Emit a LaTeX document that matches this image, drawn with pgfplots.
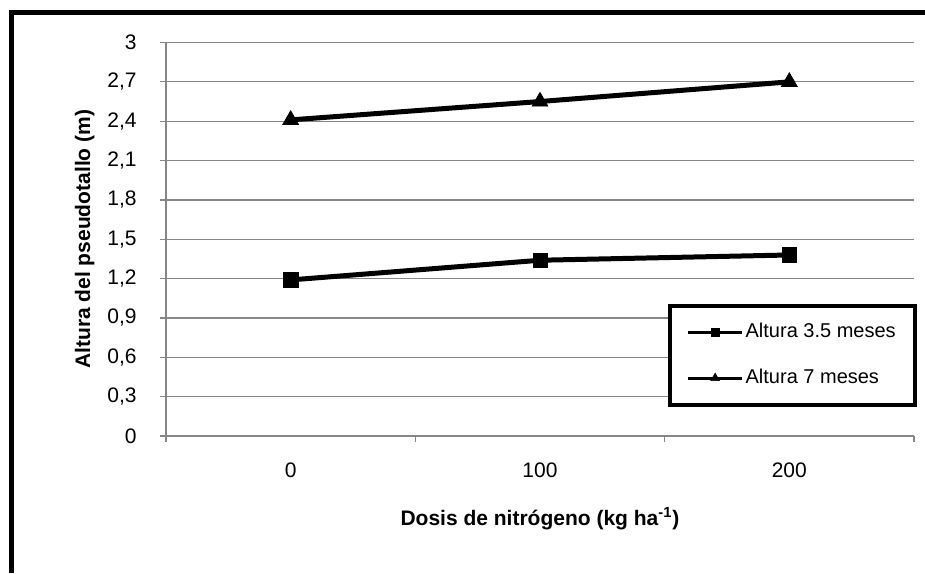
\documentclass[border=0pt]{standalone}
\usepackage{pgfplots}
\pgfplotsset{compat=1.18}
\usepackage{fontspec}
\setmainfont{Liberation Sans}
\definecolor{gridgray}{RGB}{134,134,134}

\begin{document}
\fontsize{10.5pt}{12.6pt}\selectfont%
\begin{tikzpicture}
\useasboundingbox (0pt,0pt) rectangle (462.5pt,286.5pt);
% chart frame
\draw[line width=2.5pt] (5.5pt,0pt) -- (5.5pt,280.25pt) -- (462.5pt,280.25pt);
\begin{axis}[
  at={(83pt,68.5pt)}, anchor=south west,
  width=374pt, height=196.75pt, scale only axis,
  xmin=-0.5, xmax=2.5, ymin=0, ymax=3,
  axis lines*=left,
  axis line style={gridgray, line width=0.6pt},
  ymajorgrids, grid style={gridgray, line width=0.6pt},
  tick align=outside, major tick length=3pt,
  tick style={gridgray, line width=0.6pt},
  ytick={0,0.3,0.6,0.9,1.2,1.5,1.8,2.1,2.4,2.7,3},
  xtick={-0.5,0.5,1.5,2.5}, xticklabels={},
  extra x ticks={0,1,2}, extra x tick labels={0,100,200},
  extra x tick style={major tick length=0pt, grid=none},
  xticklabel style={anchor=base, yshift=-20.9pt},
  yticklabel style={anchor=east, xshift=-8pt,
    /pgf/number format/use comma, /pgf/number format/fixed,
    /pgf/number format/precision=1, /pgf/number format/assume math mode=true},
  xlabel={\bfseries Dosis de nitrógeno (kg ha\textsuperscript{-1})},
  xlabel style={at={(axis description cs:0.5,0)}, anchor=base, yshift=-44.5pt},
  ylabel={\bfseries Altura del pseudotallo (m)},
  ylabel style={at={(axis description cs:-0.1016,0.5)}, anchor=base},
  legend style={at={(axis description cs:1.0036,0.0745)}, anchor=south east,
    draw=black, line width=2pt, inner xsep=8.5pt, inner ysep=7pt, row sep=10.5pt,
    font=\fontsize{10pt}{12pt}\selectfont,
    nodes={inner sep=1pt, text height=8pt, text depth=2.5pt}},
  legend cell align=left,
  legend image code/.code={\draw[mark repeat=2, mark phase=2, #1]
    plot coordinates {(0pt,0pt) (13.5pt,0pt) (27pt,0pt)};},
]
\addplot[black, line width=2.5pt, mark=square*, mark size=3.6pt,
  mark options={line width=0.3pt},
  legend image post style={line width=1.5pt, mark size=2pt}]
  coordinates {(0,1.19) (1,1.34) (2,1.38)};
\addlegendentry{Altura 3.5 meses}
\addplot[black, line width=2.5pt, mark=triangle*, mark size=4.6pt,
  mark options={line width=0.3pt},
  legend image post style={line width=1.5pt, mark size=2.5pt}]
  coordinates {(0,2.41) (1,2.55) (2,2.70)};
\addlegendentry{Altura 7 meses}
\end{axis}
\end{tikzpicture}%
\end{document}
